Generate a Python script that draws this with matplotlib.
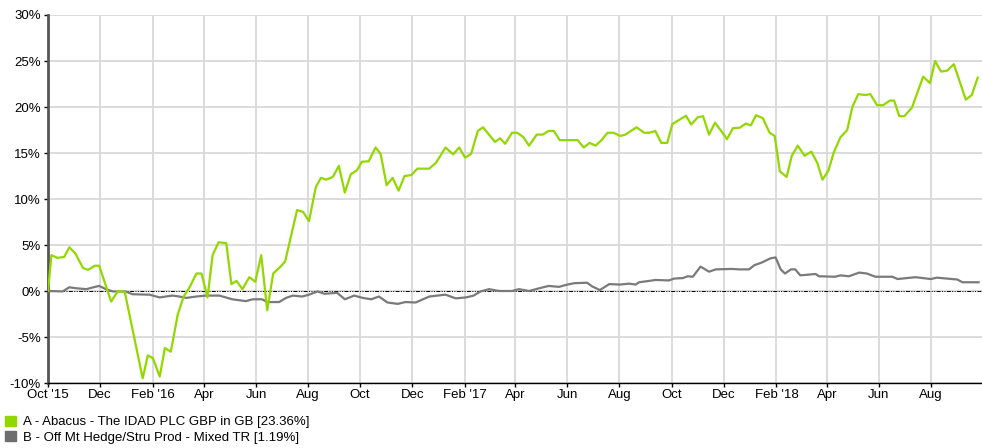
import matplotlib
matplotlib.use("Agg")
import matplotlib.pyplot as plt
import matplotlib.dates as mdates
from matplotlib.patches import Patch
from matplotlib.ticker import FuncFormatter, MultipleLocator
import pandas as pd

plt.rcParams["font.family"] = ["Liberation Sans", "DejaVu Sans"]

# A - Abacus (weekly-ish readings, cumulative % return)
abacus_dates = [
    "2015-10-01", "2015-10-05", "2015-10-12", "2015-10-20", "2015-10-26", "2015-11-02",
    "2015-11-11", "2015-11-17", "2015-11-25", "2015-11-30", "2015-12-14", "2015-12-22",
    "2015-12-30", "2016-01-20", "2016-01-26", "2016-02-01", "2016-02-09", "2016-02-15",
    "2016-02-22", "2016-03-01", "2016-03-08", "2016-03-15", "2016-03-23", "2016-03-29",
    "2016-04-05", "2016-04-11", "2016-04-18", "2016-04-27", "2016-05-03", "2016-05-09",
    "2016-05-16", "2016-05-24", "2016-05-31", "2016-06-07", "2016-06-14", "2016-06-21",
    "2016-06-28", "2016-07-05", "2016-07-19", "2016-07-26", "2016-08-02", "2016-08-10",
    "2016-08-16", "2016-08-22", "2016-08-30", "2016-09-06", "2016-09-13", "2016-09-20",
    "2016-09-27", "2016-10-03", "2016-10-11", "2016-10-19", "2016-10-25", "2016-11-01",
    "2016-11-08", "2016-11-15", "2016-11-22", "2016-11-30", "2016-12-07", "2016-12-21",
    "2016-12-29", "2017-01-09", "2017-01-18", "2017-01-25", "2017-02-01", "2017-02-08",
    "2017-02-16", "2017-02-22", "2017-03-01", "2017-03-08", "2017-03-14", "2017-03-20",
    "2017-03-28", "2017-04-03", "2017-04-10", "2017-04-17", "2017-04-26", "2017-05-03",
    "2017-05-10", "2017-05-16", "2017-05-23", "2017-06-13", "2017-06-20", "2017-06-27",
    "2017-07-04", "2017-07-11", "2017-07-18", "2017-07-25", "2017-08-02", "2017-08-08",
    "2017-08-21", "2017-08-30", "2017-09-05", "2017-09-12", "2017-09-19", "2017-09-26",
    "2017-10-02", "2017-10-10", "2017-10-18", "2017-10-24", "2017-11-01", "2017-11-07",
    "2017-11-14", "2017-11-21", "2017-11-29", "2017-12-05", "2017-12-12", "2017-12-20",
    "2017-12-27", "2018-01-02", "2018-01-08", "2018-01-16", "2018-01-24", "2018-01-30",
    "2018-02-05", "2018-02-13", "2018-02-19", "2018-02-26", "2018-03-06", "2018-03-14",
    "2018-03-21", "2018-03-27", "2018-04-03", "2018-04-09", "2018-04-17", "2018-04-25",
    "2018-05-01", "2018-05-08", "2018-05-16", "2018-05-22", "2018-05-30", "2018-06-06",
    "2018-06-14", "2018-06-19", "2018-06-25", "2018-07-01", "2018-07-10", "2018-07-23",
    "2018-07-31", "2018-08-06", "2018-08-13", "2018-08-20", "2018-08-28", "2018-09-11",
    "2018-09-18", "2018-09-25",
]
abacus_vals = [
    0.0, 3.9, 3.6, 3.7, 4.75, 4.1,
    2.5, 2.3, 2.75, 2.75, -1.15, 0.0,
    -0.1, -9.5, -7.0, -7.3, -9.3, -6.2,
    -6.6, -2.6, -0.6, 0.4, 1.9, 1.9,
    -0.7, 3.9, 5.3, 5.2, 0.75, 1.1,
    0.2, 1.5, 1.0, 3.9, -2.1, 1.9,
    2.5, 3.2, 8.8, 8.6, 7.6, 11.3,
    12.3, 12.1, 12.4, 13.6, 10.7, 12.7,
    13.1, 14.05, 14.1, 15.6, 14.9, 11.5,
    12.3, 10.9, 12.5, 12.6, 13.3, 13.3,
    13.95, 15.6, 14.85, 15.6, 14.5, 14.9,
    17.4, 17.8, 17.0, 16.2, 16.6, 16.0,
    17.2, 17.2, 16.75, 15.8, 17.0, 17.0,
    17.4, 17.4, 16.4, 16.4, 15.6, 16.1,
    15.8, 16.4, 17.2, 17.2, 16.85, 17.0,
    17.8, 17.2, 17.2, 17.4, 16.1, 16.1,
    18.15, 18.6, 19.05, 18.1, 18.9, 19.0,
    17.0, 18.3, 17.3, 16.5, 17.7, 17.75,
    18.2, 18.0, 19.1, 18.8, 17.2, 16.85,
    13.0, 12.4, 14.7, 15.8, 14.7, 15.15,
    13.9, 12.1, 13.1, 15.0, 16.7, 17.5,
    20.0, 21.4, 21.3, 21.4, 20.2, 20.2,
    20.7, 20.7, 19.0, 19.0, 19.95, 23.3,
    22.6, 25.0, 23.85, 23.95, 24.65, 20.8,
    21.3, 23.2,
]

# B - sector average
sector_dates = [
    "2015-10-01", "2015-10-18", "2015-10-26", "2015-11-03", "2015-11-15", "2015-11-23",
    "2015-11-30", "2015-12-08", "2015-12-16", "2015-12-31", "2016-01-08", "2016-01-28",
    "2016-02-09", "2016-02-16", "2016-02-24", "2016-03-03", "2016-03-11", "2016-03-23",
    "2016-04-03", "2016-04-19", "2016-05-04", "2016-05-20", "2016-05-28", "2016-06-08",
    "2016-06-14", "2016-06-28", "2016-07-06", "2016-07-14", "2016-07-25", "2016-08-02",
    "2016-08-12", "2016-08-20", "2016-09-04", "2016-09-13", "2016-09-24", "2016-10-04",
    "2016-10-14", "2016-10-23", "2016-11-02", "2016-11-14", "2016-11-23", "2016-12-05",
    "2016-12-21", "2017-01-09", "2017-01-21", "2017-02-02", "2017-02-11", "2017-02-19",
    "2017-03-01", "2017-03-13", "2017-03-28", "2017-04-05", "2017-04-17", "2017-04-29",
    "2017-05-10", "2017-05-22", "2017-06-01", "2017-06-09", "2017-06-24", "2017-06-30",
    "2017-07-09", "2017-07-20", "2017-08-02", "2017-08-12", "2017-08-20", "2017-08-24",
    "2017-09-05", "2017-09-12", "2017-09-28", "2017-10-04", "2017-10-14", "2017-10-20",
    "2017-10-26", "2017-11-04", "2017-11-14", "2017-11-22", "2017-12-11", "2017-12-19",
    "2017-12-31", "2018-01-06", "2018-01-15", "2018-01-25", "2018-01-31", "2018-02-06",
    "2018-02-11", "2018-02-18", "2018-02-23", "2018-03-01", "2018-03-19", "2018-03-23",
    "2018-04-11", "2018-04-17", "2018-04-27", "2018-05-09", "2018-05-18", "2018-05-28",
    "2018-06-17", "2018-06-23", "2018-07-14", "2018-08-01", "2018-08-08", "2018-09-01",
    "2018-09-07", "2018-09-26",
]
sector_vals = [
    0.0, -0.05, 0.4, 0.3, 0.2, 0.4,
    0.55, 0.2, -0.05, -0.05, -0.35, -0.4,
    -0.7, -0.6, -0.5, -0.6, -0.75, -0.6,
    -0.5, -0.5, -0.9, -1.1, -0.9, -0.9,
    -1.2, -1.2, -0.75, -0.5, -0.6, -0.4,
    -0.05, -0.3, -0.2, -0.9, -0.5, -0.75,
    -0.9, -0.6, -1.25, -1.4, -1.2, -1.25,
    -0.6, -0.4, -0.8, -0.7, -0.5, -0.05,
    0.2, 0.0, 0.0, 0.2, 0.0, 0.3,
    0.55, 0.45, 0.7, 0.85, 0.9, 0.5,
    0.1, 0.75, 0.7, 0.8, 0.7, 0.95,
    1.1, 1.2, 1.15, 1.35, 1.4, 1.6,
    1.55, 2.65, 2.1, 2.35, 2.4, 2.35,
    2.35, 2.8, 3.1, 3.55, 3.65, 2.35,
    1.9, 2.35, 2.35, 1.7, 1.85, 1.6,
    1.55, 1.7, 1.6, 2.0, 1.9, 1.55,
    1.55, 1.3, 1.5, 1.3, 1.45, 1.25,
    0.95, 0.95,
]

tick_dates = pd.date_range("2015-10-01", "2018-08-01", freq="2MS")
labels = ["A - Abacus - The IDAD PLC GBP in GB [23.36%]",
          "B - Off Mt Hedge/Stru Prod - Mixed TR [1.19%]"]
green = "#92d800"
grey = "#7a7a7a"

fig = plt.figure(figsize=(9.82, 4.48), dpi=100)
ax = fig.add_axes([48 / 982, 65 / 448, 1 - 48 / 982, 368 / 448])

ax.plot(pd.to_datetime(sector_dates), sector_vals, color=grey, lw=1.6, zorder=3)
ax.plot(pd.to_datetime(abacus_dates), abacus_vals, color=green, lw=1.6, zorder=4)
ax.axhline(0, color="black", lw=0.7, ls=(0, (4, 1.5, 1, 1.5, 1, 1.5)), zorder=2)

ax.set_xlim(pd.Timestamp("2015-10-01"), pd.Timestamp("2018-09-30"))
ax.set_ylim(-10, 30)
ax.yaxis.set_major_locator(MultipleLocator(5))
ax.yaxis.set_major_formatter(FuncFormatter(lambda v, p: f"{v:.0f}%"))

ax.set_xticks(tick_dates)
xlabels = []
for d in tick_dates:
    if d.month == 10 and d.year == 2015:
        xlabels.append("Oct '15")
    elif d.month == 2:
        xlabels.append(d.strftime("Feb '%y"))
    else:
        xlabels.append(d.strftime("%b"))
ax.set_xticklabels(xlabels)

ax.grid(True, color="#d9d9d9", lw=1.3, zorder=0)
ax.set_axisbelow(True)
for s in ["top", "right"]:
    ax.spines[s].set_visible(False)
ax.spines["left"].set_color("#555555")
ax.spines["left"].set_linewidth(2)
ax.spines["bottom"].set_color("black")
ax.spines["bottom"].set_linewidth(1)
ax.tick_params(axis="both", labelsize=9.5, colors="black", length=3, width=1, pad=1)
ax.tick_params(axis="y", pad=2)

handles = [Patch(color=green), Patch(color="#6e6e6e")]
fig.legend(handles, labels, loc="lower left", bbox_to_anchor=(-0.003, -0.008),
           frameon=False, fontsize=9.5, handlelength=0.8, handleheight=0.8,
           handletextpad=0.55, labelspacing=0.22, borderaxespad=0.2)

fig.savefig("out.png", dpi=100)
